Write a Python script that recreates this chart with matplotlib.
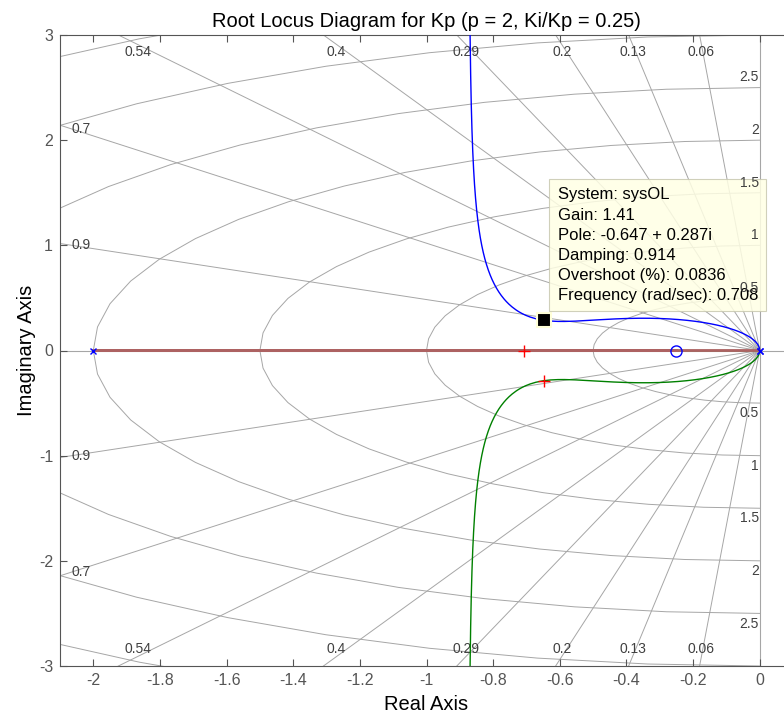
import numpy as np
import matplotlib
matplotlib.use('Agg')
import matplotlib.pyplot as plt

plt.rcParams['font.family'] = ['Liberation Sans', 'DejaVu Sans']
plt.rcParams['axes.unicode_minus'] = False

# open loop: plant 1/(s(s+2)) with PI controller (s + 0.25)/s
ol_poles = [0.0, 0.0, -2.0]
ol_zeros = [-0.25]

# gain chosen with the data tip and its closed-loop poles
gain_tip = 1.41
pole_tip = (-0.647, 0.287)
cl_poles_re = [-0.706, -0.647, -0.647]
cl_poles_im = [0.0, 0.287, -0.287]

# sgrid values
damping = [0.06, 0.13, 0.2, 0.29, 0.4, 0.54, 0.7, 0.9]
nat_freq = [0.5, 1.0, 1.5, 2.0, 2.5, 3.0, 3.5]
freq_labels = [0.5, 1.0, 1.5, 2.0, 2.5]

xticks = [-2, -1.8, -1.6, -1.4, -1.2, -1, -0.8, -0.6, -0.4, -0.2, 0]
yticks = [-3, -2, -1, 0, 1, 2, 3]

tip_lines = ['System: sysOL',
             'Gain: 1.41',
             'Pole: -0.647 + 0.287i',
             'Damping: 0.914',
             'Overshoot (%): 0.0836',
             'Frequency (rad/sec): 0.708']

# root locus from characteristic polynomial den + K*num
den = np.poly(ol_poles)
num = np.poly(ol_zeros)
num = np.concatenate([np.zeros(len(den) - len(num)), num])
gains = np.concatenate([[0.0], np.logspace(-5, 3, 3000)])
up, lo, re_branch = [], [], []
for k in gains:
    r = np.roots(den + k * num)
    r = r[np.argsort(r.imag)]
    lo.append(r[0])
    re_branch.append(r[1])
    up.append(r[2])
up = np.array(up); lo = np.array(lo); re_branch = np.array(re_branch)

fig = plt.figure(figsize=(7.84, 7.21), dpi=100)
ax = fig.add_axes([60 / 784, 55 / 721, 733 / 784, 631 / 721])
xl = (-2.1, 0.1)
yl = (-3, 3)

grid_c = '#a6a6a6'
lab_c = '#404040'

# damping rays
ax.plot([-10, 10], [0, 0], color=grid_c, lw=0.8, zorder=1)
ax.plot([0, 0], [-10, 10], color=grid_c, lw=0.8, zorder=1)
for z in damping:
    sl = np.sqrt(1 - z ** 2) / z
    ax.plot([0, -10], [0, 10 * sl], color=grid_c, lw=0.7, zorder=1)
    ax.plot([0, -10], [0, -10 * sl], color=grid_c, lw=0.7, zorder=1)
    xt = -2.91 / sl
    if xt > xl[0] + 0.05:
        ax.text(xt, 2.84, f'{z:g}', ha='center', va='center', fontsize=10, color=lab_c, zorder=2)
        ax.text(xt, -2.84, f'{z:g}', ha='center', va='center', fontsize=10, color=lab_c, zorder=2)
    else:
        xs = -2.066
        ax.text(xs, -xs * sl, f'{z:g}', ha='left', va='center', fontsize=10, color=lab_c, zorder=2)
        ax.text(xs, xs * sl, f'{z:g}', ha='left', va='center', fontsize=10, color=lab_c, zorder=2)

# natural frequency curves
theta = np.linspace(np.pi / 2, 3 * np.pi / 2, 29)
for w in nat_freq:
    ax.plot(w * np.cos(theta), w * np.sin(theta), color=grid_c, lw=0.7, zorder=1)
for w in freq_labels:
    ax.text(-0.003, w + 0.03, f'{w:g}', ha='right', va='bottom', fontsize=10, color=lab_c, zorder=7)
    ax.text(-0.003, -w - 0.03, f'{w:g}', ha='right', va='top', fontsize=10, color=lab_c, zorder=7)

# locus branches
ax.plot(up.real, up.imag, color='#0000ff', lw=1.0, zorder=3)
ax.plot(lo.real, lo.imag, color='#008000', lw=1.0, zorder=3)
ax.plot(re_branch.real, re_branch.imag, color='#ad6262', lw=2.0, zorder=3)

# open loop poles / zeros
ax.plot(ol_poles, np.zeros(len(ol_poles)), 'x', color='#0000ff', ms=5, mew=1.0, zorder=4)
ax.plot(ol_zeros, np.zeros(len(ol_zeros)), 'o', mfc='none', mec='#0000ff', ms=8, mew=1.0, zorder=4)

# closed loop poles at selected gain
ax.plot(cl_poles_re, cl_poles_im, '+', color='#ff0000', ms=9, mew=1.0, zorder=4)

# data tip
ax.plot(pole_tip[0], pole_tip[1], 's', color='black', mec='#ffffd8', ms=10, mew=1.5, zorder=5)
ax.text(-0.6066, 1.55, '\n'.join(tip_lines), ha='left', va='top', fontsize=12,
        color='black', linespacing=1.42, zorder=6,
        bbox=dict(boxstyle='square,pad=0.5', fc='#ffffe4', ec='#c8c8b0', lw=0.8, alpha=0.85))

ax.set_xlim(*xl)
ax.set_ylim(*yl)
ax.set_xticks(xticks)
ax.set_xticklabels([f'{t:g}' for t in xticks])
ax.set_yticks(yticks)
ax.tick_params(direction='in', top=True, right=True, length=5, width=0.8,
               labelsize=11.5, colors='#555555', labelcolor='#555555', pad=5)
for sp in ax.spines.values():
    sp.set_color('#555555')
    sp.set_linewidth(0.8)

ax.set_title('Root Locus Diagram for Kp (p = 2, Ki/Kp = 0.25)', fontsize=14.5, pad=6)
ax.set_xlabel('Real Axis', fontsize=14.5, labelpad=5)
ax.set_ylabel('Imaginary Axis', fontsize=14.5, labelpad=2)

fig.savefig('out.png', dpi=100)
